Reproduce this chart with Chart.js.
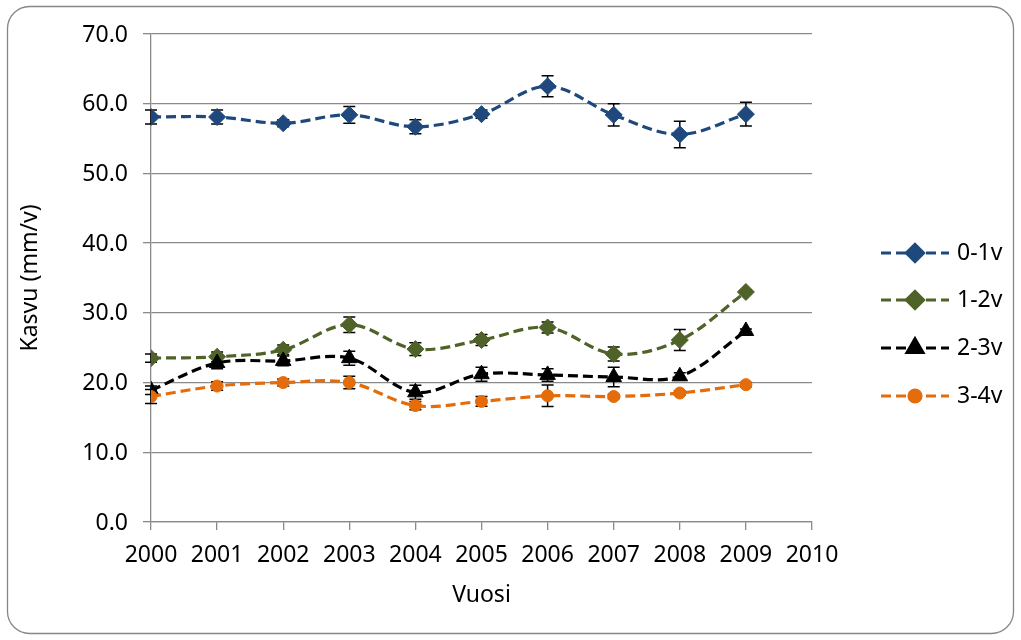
<!DOCTYPE html>
<html>
<head>
<meta charset="utf-8">
<script src="https://cdn.jsdelivr.net/npm/chart.js@4.4.1/dist/chart.umd.min.js"></script>
<style>
  body { margin: 0; background: #fff; }
  canvas { display: block; }
</style>
</head>
<body>
<canvas id="growthChart" width="1021" height="640"></canvas>
<script>
// Data
const years = [2000, 2001, 2002, 2003, 2004, 2005, 2006, 2007, 2008, 2009]
const seriesNames = ['0-1v', '1-2v', '2-3v', '3-4v']

const growth01 = [58.1, 58.1, 57.2, 58.4, 56.7, 58.5, 62.5, 58.4, 55.6, 58.5]
const growth12 = [23.5, 23.7, 24.7, 28.3, 24.8, 26.1, 27.9, 24.1, 26.1, 33.0]
const growth23 = [18.9, 22.8, 23.1, 23.5, 18.6, 21.2, 21.1, 20.8, 20.9, 27.4]
const growth34 = [18.0, 19.5, 20.0, 20.0, 16.7, 17.3, 18.1, 18.0, 18.5, 19.7]

// +/- error bar sizes
const err01 = [1.0, 1.0, 0.5, 1.2, 1.0, 0.6, 1.5, 1.6, 1.9, 1.7]
const err12 = [0.6, 0.7, 0.7, 1.1, 0.9, 0.8, 0.8, 1.0, 1.5, 0.3]
const err23 = [0.6, 0.8, 0.7, 1.0, 1.0, 1.0, 0.9, 1.4, 0.5, 0.3]
const err34 = [1.0, 0.6, 0.5, 0.9, 0.6, 0.7, 1.55, 0.3, 0.3, 0.3]

const xTicks = [2000, 2010]
const yTicks = [0, 70, 10]

const FONT = "'Noto Sans', 'Open Sans', sans-serif"
const GRID = '#8a8a8a'

function makeDataset(label, values, errors, color, style, radius, order) {
    return {
        label: label,
        data: years.map((yr, i) => ({ x: yr, y: values[i] })),
        errors: errors,
        borderColor: color,
        backgroundColor: color,
        borderWidth: 3.2,
        borderDash: [10, 5],
        tension: 0.35,
        pointStyle: style,
        pointRadius: radius,
        pointBackgroundColor: color,
        pointBorderColor: color,
        pointBorderWidth: 1,
        order: order
    }
}

const datasets = [
    makeDataset(seriesNames[0], growth01, err01, '#1f497d', 'rectRot', 8.5, 3),
    makeDataset(seriesNames[1], growth12, err12, '#4f6228', 'rectRot', 8.5, 2),
    makeDataset(seriesNames[2], growth23, err23, '#000000', 'triangle', 9, 1),
    makeDataset(seriesNames[3], growth34, err34, '#e46c0a', 'circle', 6, 0)
]

// white background + rounded outer frame
const frame = {
    id: 'frame',
    beforeDraw(chart) {
        const ctx = chart.ctx
        ctx.save()
        ctx.fillStyle = '#fff'
        ctx.fillRect(0, 0, chart.width, chart.height)
        ctx.strokeStyle = '#868686'
        ctx.lineWidth = 1.3
        ctx.beginPath()
        ctx.roundRect(7.5, 6.5, 1006, 627, 22)
        ctx.stroke()
        ctx.restore()
    }
}

// error bars, drawn under the markers
const errorBars = {
    id: 'errorBars',
    beforeDatasetsDraw(chart) {
        const { ctx, scales: { x, y } } = chart
        ctx.save()
        ctx.strokeStyle = '#000'
        ctx.lineWidth = 1.5
        chart.data.datasets.forEach(ds => {
            ds.data.forEach((pt, i) => {
                const e = ds.errors[i]
                const px = x.getPixelForValue(pt.x)
                const top = y.getPixelForValue(pt.y + e)
                const bottom = y.getPixelForValue(pt.y - e)
                ctx.beginPath()
                ctx.moveTo(px, top)
                ctx.lineTo(px, bottom)
                ctx.moveTo(px - 6, top)
                ctx.lineTo(px + 6, top)
                ctx.moveTo(px - 6, bottom)
                ctx.lineTo(px + 6, bottom)
                ctx.stroke()
            })
        })
        ctx.restore()
    }
}

// legend on the right, line + marker like the original
const sideLegend = {
    id: 'sideLegend',
    afterDraw(chart) {
        const ctx = chart.ctx
        const rows = [253, 300, 348, 396]
        ctx.save()
        chart.data.datasets.forEach((ds, i) => {
            const yy = rows[i]
            ctx.strokeStyle = ds.borderColor
            ctx.lineWidth = ds.borderWidth
            ctx.setLineDash(ds.borderDash)
            ctx.beginPath()
            ctx.moveTo(881, yy)
            ctx.lineTo(949, yy)
            ctx.stroke()
            ctx.setLineDash([])
            ctx.fillStyle = ds.pointBackgroundColor
            ctx.strokeStyle = ds.pointBorderColor
            Chart.helpers.drawPoint(ctx, {
                pointStyle: ds.pointStyle,
                radius: ds.pointRadius,
                rotation: 0,
                borderWidth: 1
            }, 915, yy)
            ctx.fillStyle = '#000'
            ctx.font = '23px ' + FONT
            ctx.textBaseline = 'middle'
            ctx.textAlign = 'left'
            ctx.fillText(ds.label, 957, yy)
        })
        ctx.restore()
    }
}

const chart = new Chart(document.getElementById('growthChart'), {
    type: 'line',
    data: { datasets: datasets },
    options: {
        responsive: false,
        animation: false,
        events: [],
        layout: {
            padding: { top: 34, right: 209, left: 0, bottom: 0 }
        },
        plugins: {
            legend: { display: false },
            tooltip: { enabled: false }
        },
        scales: {
            x: {
                type: 'linear',
                min: xTicks[0],
                max: xTicks[1],
                afterFit: scale => { scale.height = 118 },
                ticks: {
                    stepSize: 1,
                    padding: 12,
                    color: '#000',
                    font: { family: FONT, size: 23 },
                    callback: v => String(v)
                },
                grid: {
                    drawOnChartArea: false,
                    drawTicks: true,
                    tickLength: 8,
                    color: GRID,
                    lineWidth: 1.3
                },
                border: { color: GRID, width: 1.3 },
                title: {
                    display: true,
                    text: 'Vuosi',
                    color: '#000',
                    font: { family: FONT, size: 23 },
                    padding: { top: 0, bottom: 31 }
                }
            },
            y: {
                min: yTicks[0],
                max: yTicks[1],
                afterFit: scale => { scale.width = 151 },
                ticks: {
                    stepSize: yTicks[2],
                    padding: 15,
                    labelOffset: 1,
                    color: '#000',
                    font: { family: FONT, size: 23 },
                    callback: v => v.toFixed(1)
                },
                grid: {
                    drawTicks: true,
                    tickLength: 8,
                    color: GRID,
                    lineWidth: 1.3
                },
                border: { color: GRID, width: 1.3 },
                title: {
                    display: true,
                    text: 'Kasvu (mm/v)',
                    color: '#000',
                    font: { family: FONT, size: 23 },
                    padding: { top: 17, bottom: 0 }
                }
            }
        }
    },
    plugins: [frame, errorBars, sideLegend]
})
</script>
</body>
</html>
